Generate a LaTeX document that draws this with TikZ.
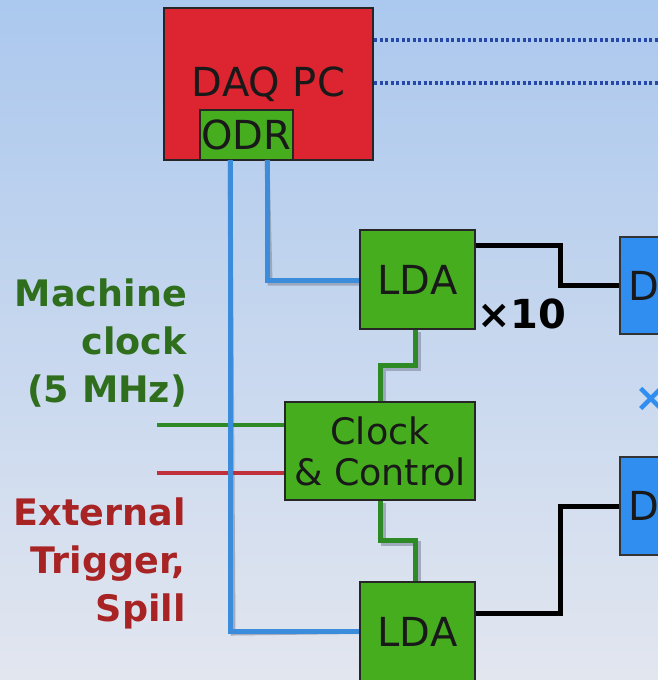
\documentclass[tikz,border=0pt]{standalone}
\usepackage{fontspec}
\setmainfont{DejaVu Sans}
\definecolor{bgtop}{HTML}{ABC8EE}
\definecolor{bgbot}{HTML}{E2E6EF}
\definecolor{daqred}{HTML}{DC2530}
\definecolor{boxgreen}{HTML}{46AE1E}
\definecolor{linkblue}{HTML}{3C8CDC}
\definecolor{detblue}{HTML}{2F8EF0}
\definecolor{dotblue}{HTML}{2848A8}
\definecolor{clkgreen}{HTML}{2E8A24}
\definecolor{lblgreen}{HTML}{2E6E1C}
\definecolor{lblred}{HTML}{A82424}
\definecolor{trigred}{HTML}{C0303A}
\definecolor{shadowgray}{HTML}{8A94A8}
\begin{document}
\begin{tikzpicture}[x=1pt,y=-1pt,
  box/.style={draw=black!85, line width=2pt, fill=boxgreen, inner sep=0pt, text=black!90},
  detbox/.style={draw=black!80, line width=2pt, fill=detblue, inner sep=0pt},
  bigtxt/.style={font=\fontsize{40}{46}\selectfont},
  cctxt/.style={font=\fontsize{36.5}{41}\selectfont},
  bluelink/.style={draw=linkblue, line width=5pt},
  greenlink/.style={draw=clkgreen, line width=5pt},
  blacklink/.style={draw=black, line width=5pt},
  shadowline/.style={draw=shadowgray, line width=5pt, opacity=0.7},
  dotline/.style={draw=dotblue, line width=4pt, dash pattern=on 3pt off 2.5pt}]
\useasboundingbox (0,0) rectangle (658,680);
\fill[top color=bgtop, bottom color=bgbot] (0,0) rectangle (658,680);
\begin{scope}
\clip (0,0) rectangle (658,680);
% DAQ PC
\node[draw=black!85, line width=2pt, fill=daqred, inner sep=0pt, minimum width=209pt, minimum height=152pt, bigtxt, text=black!90] (daq) at (268.5,84) {DAQ PC};
\node[box, minimum width=93pt, minimum height=50pt, bigtxt] (odr) at (246.5,135) {ODR};
% dotted lines
\coordinate (dot1) at (658,40);
\coordinate (dot2) at (658,83);
\draw[dotline] (daq.east |- dot1) -- (dot1);
\draw[dotline] (daq.east |- dot2) -- (dot2);
% boxes
\node[box, minimum width=115pt, minimum height=99pt, bigtxt] (lda1) at (417.5,279.5) {LDA};
\node[box, minimum width=190pt, minimum height=98pt, align=center, cctxt] (cc) at (380,451) {Clock\\\& Control};
\node[box, minimum width=115pt, minimum height=99pt, bigtxt] (lda2) at (417.5,631.5) {LDA};
\node[detbox, minimum width=80pt, minimum height=97pt] (d1) at (660,285.5) {};
\node[detbox, minimum width=80pt, minimum height=98pt] (d2) at (660,506) {};
\node[bigtxt, anchor=west, inner sep=0pt, text=black!90] (d1t) at (628,285.5) {D};
\node[bigtxt, anchor=west, inner sep=0pt, text=black!90] (d2t) at (628,506) {D};
\node[font=\fontsize{40}{46}\selectfont\bfseries, anchor=west, inner sep=0pt] (x10) at (477,314) {×10};
\node[font=\fontsize{40}{46}\selectfont\bfseries, anchor=west, inner sep=0pt, text=detblue] (xblue) at (634,399) {×};
% coordinates
\coordinate (b1a) at (230,160);
\coordinate (b2a) at (267,160);
\coordinate (clkin) at (157,425);
\coordinate (trgin) at (157,473);
\coordinate (k1) at (560,245);
\coordinate (k2) at (560,613);
% shadows
\begin{scope}[shift={(3,3)}]
\draw[shadowline] (b1a) -- (230,630) -- (lda2.west);
\draw[shadowline] (b2a) -- (267,280) -- (lda1.west |- 0,280);
\draw[shadowline] (415,329) -- (415,365) -- (380,365) -- (380,402);
\draw[shadowline] (380,500) -- (380,540) -- (415,540) -- (415,582);
\end{scope}
% clock and trigger inputs
\draw[draw=clkgreen, line width=4pt] (clkin) -- (cc.west |- clkin);
\draw[draw=trigred, line width=4pt] (trgin) -- (cc.west |- trgin);
% blue links
\draw[bluelink] (b1a) |- (lda2.west);
\draw[bluelink] (b2a) |- (lda1.west |- 0,280);
% green links
\draw[greenlink] (lda1.south -| 415,0) -- (415,365) -- (380,365) -- (cc.north);
\draw[greenlink] (cc.south) -- (380,540) -- (415,540) -- (lda2.north -| 415,0);
% black links
\draw[blacklink] (lda1.east |- k1) -- (k1) |- (d1.west);
\draw[blacklink] (lda2.east |- k2) -- (k2) |- (d2.west);
% redraw boxes on top
\node[box, minimum width=115pt, minimum height=99pt, bigtxt] at (lda1) {LDA};
\node[box, minimum width=190pt, minimum height=98pt, align=center, cctxt] at (cc) {Clock\\\& Control};
\node[box, minimum width=115pt, minimum height=99pt, bigtxt] at (lda2) {LDA};
\end{scope}
% labels
\node[anchor=east, align=right, inner sep=0pt, font=\fontsize{36.5}{48}\selectfont\bfseries, text=lblgreen] (mclk) at (187,343) {Machine\\clock\\(5 MHz)};
\node[anchor=east, align=right, inner sep=0pt, font=\fontsize{36.5}{48}\selectfont\bfseries, text=lblred] (etrg) at (186,563) {External\\Trigger,\\Spill};
\end{tikzpicture}
\end{document}
